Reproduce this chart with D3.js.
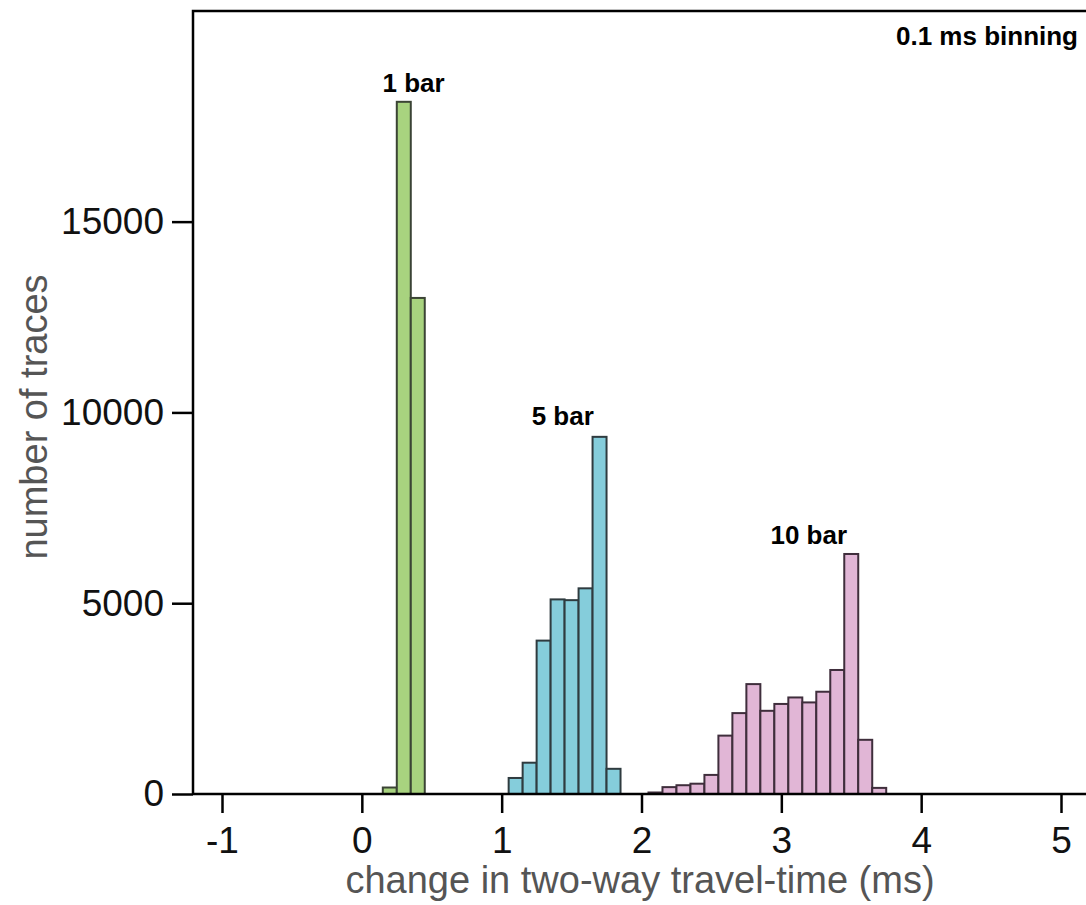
<!DOCTYPE html>
<html>
<head>
<meta charset="utf-8">
<script src="https://cdn.jsdelivr.net/npm/d3@7"></script>
<style>
  body { margin: 0; background: #fff; }
  svg { display: block; font-family: "Liberation Sans", Arial, sans-serif; }
</style>
</head>
<body>
<div id="chart"></div>
<script>
// bin centres (ms) and counts, 0.1 ms binning
var bins1 = [0.2, 0.3, 0.4];
var counts1 = [170, 18140, 13000];

var bins5 = [1.1, 1.2, 1.3, 1.4, 1.5, 1.6, 1.7, 1.8];
var counts5 = [420, 820, 4020, 5100, 5080, 5390, 9360, 660];

var bins10 = [2.1, 2.2, 2.3, 2.4, 2.5, 2.6, 2.7, 2.8, 2.9, 3.0, 3.1, 3.2, 3.3, 3.4, 3.5, 3.6, 3.7];
var counts10 = [40, 180, 230, 270, 500, 1530, 2120, 2880, 2180, 2360, 2530, 2400, 2680, 3250, 6290, 1420, 160];

var xTicks = [-1, 0, 1, 2, 3, 4, 5];
var yTicks = [0, 5000, 10000, 15000];

var seriesLabels = ["1 bar", "5 bar", "10 bar"];
var labelX = [0.37, 1.437, 3.196];
var labelY = [18400, 9670, 6550];

var width = 1086, height = 905;

var svg = d3.select("#chart")
  .append("svg")
  .attr("width", width)
  .attr("height", height);

var x = d3.scaleLinear()
  .domain([-1, 5])
  .range([222, 1061]);

var y = d3.scaleLinear()
  .domain([0, 20520])
  .range([794, 11]);

var left = 193, right = 1090;

// frame (top + left), right side runs off the page
svg.append("path")
  .attr("d", "M" + right + "," + y(20520) + "H" + left + "V" + y(0))
  .attr("fill", "none")
  .attr("stroke", "#000")
  .attr("stroke-width", 2.5);

var series = [
  { bins: bins1, counts: counts1, fill: "#a8d37f", stroke: "#3b4435" },
  { bins: bins5, counts: counts5, fill: "#85cddb", stroke: "#2f3b3f" },
  { bins: bins10, counts: counts10, fill: "#e1b6d6", stroke: "#3f2e3c" }
];

series.forEach(function (s) {
  svg.append("g")
    .selectAll("rect")
    .data(s.bins)
    .enter()
    .append("rect")
    .attr("x", d => x(d - 0.05))
    .attr("width", d => x(d + 0.05) - x(d - 0.05))
    .attr("y", (d, i) => y(s.counts[i]))
    .attr("height", (d, i) => y(0) - y(s.counts[i]))
    .attr("fill", s.fill)
    .attr("stroke", s.stroke)
    .attr("stroke-width", 2);
});

// x axis
var gx = svg.append("g")
  .attr("transform", "translate(0," + y(0) + ")")
  .call(d3.axisBottom(x).tickValues(xTicks).tickSize(19).tickSizeOuter(0).tickPadding(14)
    .tickFormat(d3.format("d")));
gx.select(".domain").remove();
gx.append("line")
  .attr("x1", left).attr("x2", right)
  .attr("stroke", "#000").attr("stroke-width", 2.5);
gx.selectAll(".tick line").attr("stroke", "#000").attr("stroke-width", 2.5);
gx.selectAll("text")
  .attr("font-size", 37)
  .attr("fill", "#111")
  .attr("font-family", "Liberation Sans, Arial, sans-serif")
  .text(d => d < 0 ? "-" + Math.abs(d) : d);

// y axis
var gy = svg.append("g")
  .attr("transform", "translate(" + left + ",0)")
  .call(d3.axisLeft(y).tickValues(yTicks).tickSize(21).tickSizeOuter(0).tickPadding(8)
    .tickFormat(d3.format("d")));
gy.select(".domain").remove();
gy.selectAll(".tick line").attr("stroke", "#000").attr("stroke-width", 2.5);
gy.selectAll("text")
  .attr("font-size", 37)
  .attr("fill", "#111")
  .attr("font-family", "Liberation Sans, Arial, sans-serif");

// axis titles
svg.append("text")
  .attr("x", 640)
  .attr("y", 893)
  .attr("text-anchor", "middle")
  .attr("font-size", 38)
  .attr("fill", "#555")
  .text("change in two-way travel-time (ms)");

svg.append("text")
  .attr("transform", "translate(47,417) rotate(-90)")
  .attr("text-anchor", "middle")
  .attr("font-size", 38)
  .attr("fill", "#555")
  .text("number of traces");

// series labels
svg.append("g")
  .selectAll("text")
  .data(seriesLabels)
  .enter()
  .append("text")
  .attr("x", (d, i) => x(labelX[i]))
  .attr("y", (d, i) => y(labelY[i]))
  .attr("text-anchor", "middle")
  .attr("font-size", 26)
  .attr("font-weight", "bold")
  .attr("fill", "#000")
  .text(d => d);

svg.append("text")
  .attr("x", 1078)
  .attr("y", 45)
  .attr("text-anchor", "end")
  .attr("font-size", 26)
  .attr("font-weight", "bold")
  .attr("fill", "#000")
  .text("0.1 ms binning");
</script>
</body>
</html>
